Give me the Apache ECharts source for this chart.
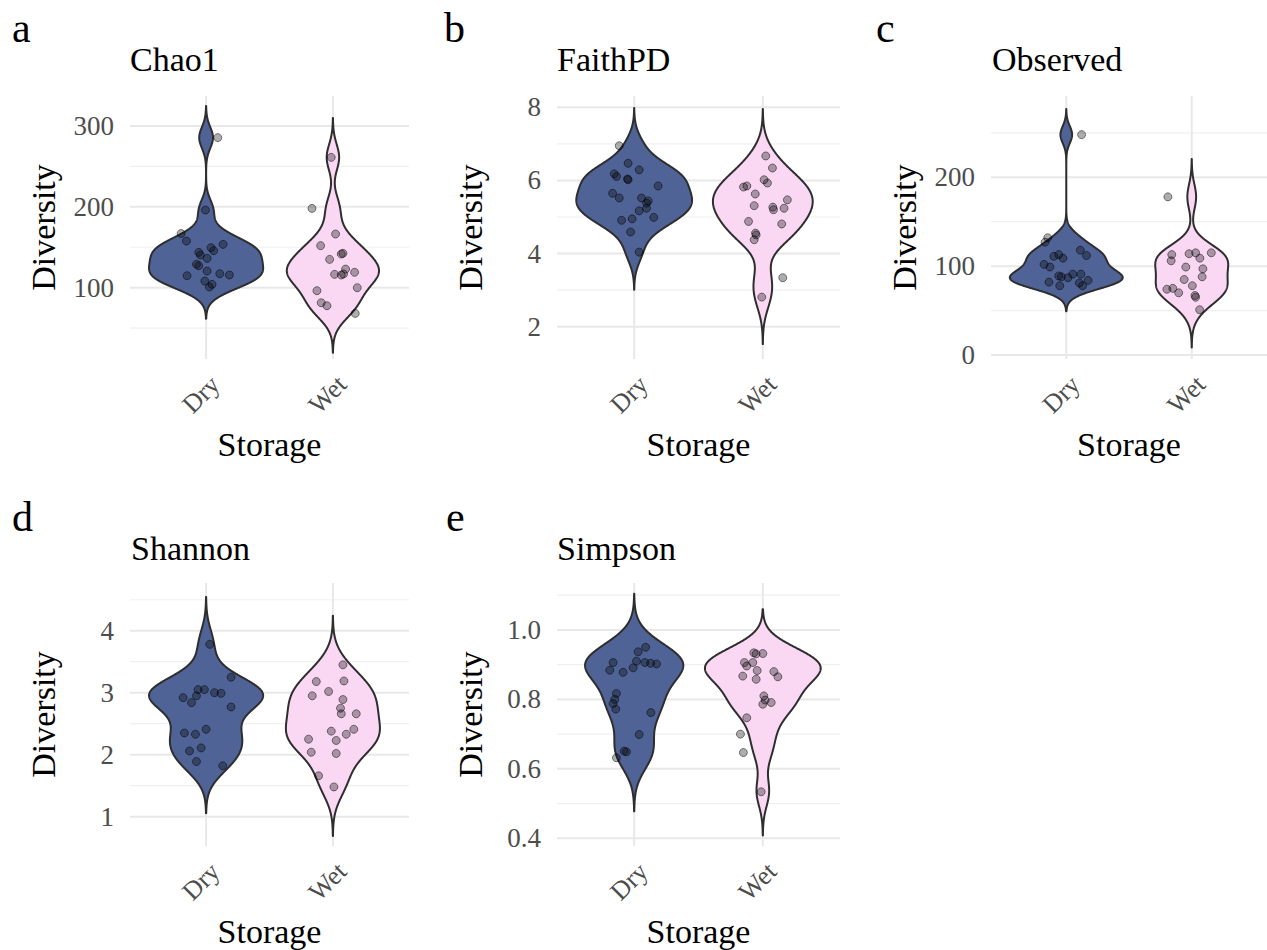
<!DOCTYPE html>
<html><head><meta charset="utf-8">
<script src="https://cdn.jsdelivr.net/npm/echarts@6/dist/echarts.min.js"></script>
<style>html,body{margin:0;padding:0;background:#fff}#c{width:1267px;height:950px}</style>
</head><body><div id="c"></div>
<script>
// ---------------- data ----------------
const groups = ['Dry', 'Wet'];
const panelLetters = ['a', 'b', 'c', 'd', 'e'];
const panelTitles = ['Chao1', 'FaithPD', 'Observed', 'Shannon', 'Simpson'];

const chao1Dry = [285.6,196,167,157.7,153.6,149.5,145.8,143.7,140.4,136.3,128.9,127.2,120.6,114.8,117.3,115.7,108.2,104.1,100.8];
const chao1DryJit = [0.092,-0.005,-0.197,-0.155,0.134,0.039,0.060,-0.058,-0.045,0.008,-0.076,-0.058,0.008,-0.150,0.108,0.184,-0.010,0.047,0.026];
const chao1Wet = [261.2,198.1,166.4,152,142.5,141.6,135,123,119,116.5,115.7,117,100,96.3,81.4,77.7,68.2];
const chao1WetJit = [-0.013,-0.165,0.021,-0.097,0.079,0.066,-0.026,0.100,0.171,0.013,0.066,0.084,0.192,-0.126,-0.092,-0.047,0.176];

const faithDry = [6.95,6.47,6.29,6.18,6.11,6.04,6.02,5.85,5.65,5.52,5.52,5.44,5.38,5.24,5.17,4.91,4.95,4.99,4.59,4.04];
const faithDryJit = [-0.116,-0.047,0.039,-0.155,-0.137,-0.052,-0.047,0.186,-0.168,-0.116,0.057,0.109,0.096,0.096,0.039,-0.098,-0.016,0.152,-0.028,0.039];
const faithWet = [6.67,6.34,6.02,5.93,5.85,5.82,5.63,5.47,5.31,5.27,5.20,5.24,4.88,4.81,4.56,4.51,4.38,3.34,2.81];
const faithWetJit = [0.023,0.075,0.010,0.036,-0.124,-0.150,-0.059,0.191,-0.067,0.078,0.083,0.165,-0.111,0.147,-0.057,-0.052,-0.067,0.155,-0.008];

const observedDry = [248,132,127,118,112,113,111,109,102,99,89,88,87,91,91,82,84,78,78,81];
const observedDryJit = [0.122,-0.148,-0.169,0.112,0.161,-0.060,-0.099,-0.026,-0.177,-0.130,-0.060,-0.039,0.013,0.052,0.117,-0.138,0.174,-0.052,0.130,0.104];
const observedWet = [178,113,106,114,115,115,109,99,97,88,85,78,74,75,70,67,65,51];
const observedWetJit = [-0.190,-0.159,-0.164,-0.021,0.031,0.156,0.065,-0.047,0.089,0.083,-0.060,0.005,-0.198,-0.151,-0.104,0.026,0.031,0.063];

const shannonDry = [3.78,3.25,3.05,3.05,3.00,2.99,2.95,2.92,2.84,2.77,2.35,2.41,2.33,2.11,2.06,1.89,1.82];
const shannonDryJit = [0.029,0.197,-0.063,-0.013,0.066,0.118,-0.076,-0.181,-0.115,0.197,-0.171,0,-0.084,-0.039,-0.131,-0.076,0.131];
const shannonWet = [3.45,3.18,3.19,3.02,2.95,2.89,2.75,2.66,2.66,2.41,2.38,2.33,2.25,2.23,2.04,2.02,1.66,1.48];
const shannonWetJit = [0.079,-0.131,0.087,-0.034,-0.163,0.079,0.060,0.066,0.184,0.165,-0.013,0.105,-0.192,0.026,-0.171,0.026,-0.113,0.008];

const simpsonDry = [0.950,0.937,0.910,0.906,0.906,0.904,0.902,0.891,0.884,0.878,0.817,0.800,0.788,0.772,0.762,0.699,0.651,0.649,0.632];
const simpsonDryJit = [0.089,0.031,0.018,-0.164,0.083,0.128,0.174,-0.008,-0.190,-0.086,-0.138,-0.151,-0.164,-0.143,0.130,0.039,-0.078,-0.060,-0.138];
const simpsonWet = [0.934,0.932,0.931,0.906,0.906,0.896,0.883,0.880,0.867,0.865,0.858,0.810,0.798,0.791,0.786,0.747,0.700,0.647,0.534];
const simpsonWetJit = [-0.070,0,-0.052,-0.143,-0.078,-0.125,-0.044,0.086,-0.156,0.117,-0.052,0.008,0.018,0.065,0,-0.125,-0.174,-0.151,-0.013];

// tick labels
const majorTicks = [[100,200,300],[2,4,6,8],[0,100,200],[1,2,3,4],[0.4,0.6,0.8,1.0]];
const minorTicks = [[50,150,250],[3,5,7],[50,150,250],[1.5,2.5,3.5,4.5],[0.5,0.7,0.9,1.1]];
const tickDecimals = [0,0,0,0,1];
// y axis limits
const yLimits = [[11.8,337.1],[1.117,8.31],[-4.5,291.5],[0.527,4.77],[0.378,1.135]];

const panelValues = [[chao1Dry,chao1Wet],[faithDry,faithWet],[observedDry,observedWet],[shannonDry,shannonWet],[simpsonDry,simpsonWet]];
const panelJitter = [[chao1DryJit,chao1WetJit],[faithDryJit,faithWetJit],[observedDryJit,observedWetJit],[shannonDryJit,shannonWetJit],[simpsonDryJit,simpsonWetJit]];

// ---------------- layout / style ----------------
const gridLeft = [130,557,991,130,557];
const gridWidth = [279,283,282,279,283];
const gridTop = [96,96,96,583,583];
const gridHeight = [263,263,263,263,263];
const letterPos = [[12,7],[444,7],[876,7],[12,496],[446,496]];
const titlePos = [[130,42],[557,42],[992,42],[131,531],[557,531]];
const FONT = 'Liberation Serif';
const fillColors = ['#4F6396', '#FAD8F4'];
const X_MIN = 0.4, X_MAX = 2.6;

// ---------------- KDE (ggplot-like violin) ----------------
function quantile7(s, p){ const h=(s.length-1)*p, lo=Math.floor(h), hi=Math.ceil(h); return s[lo]+(h-lo)*(s[hi]-s[lo]); }
function bwNrd0(x){
  const n=x.length, m=x.reduce((a,b)=>a+b,0)/n;
  const sd=Math.sqrt(x.reduce((a,b)=>a+(b-m)*(b-m),0)/(n-1));
  const s=[...x].sort((a,b)=>a-b);
  const iqr=quantile7(s,0.75)-quantile7(s,0.25);
  let lo=Math.min(sd, iqr/1.34); if(!(lo>0)) lo=sd||1;
  return 0.9*lo*Math.pow(n,-0.2);
}
function kde(x, n){
  const bw=bwNrd0(x);
  const lo=Math.min(...x)-3*bw, hi=Math.max(...x)+3*bw;
  const ys=[], ds=[];
  const c=1/(bw*Math.sqrt(2*Math.PI)*x.length);
  for(let i=0;i<n;i++){
    const y=lo+(hi-lo)*i/(n-1);
    let d=0; for(const xi of x){ const u=(y-xi)/bw; d+=Math.exp(-0.5*u*u); }
    ys.push(y); ds.push(d*c);
  }
  return {ys, ds};
}

// ---------------- build option ----------------
const grid=[], xAxis=[], yAxis=[], series=[], title=[];
for(let p=0;p<5;p++){
  grid.push({left:gridLeft[p], top:gridTop[p], width:gridWidth[p], height:gridHeight[p], containLabel:false});
  const dec = tickDecimals[p];
  xAxis.push({
    gridIndex:p, type:'value', min:X_MIN, max:X_MAX,
    axisLine:{show:false}, axisTick:{show:false}, splitLine:{show:false},
    axisLabel:{
      customValues:[1,2], rotate:45, margin:12, verticalAlign:'top', fontSize:26, color:'#4D4D4D', fontFamily:FONT,
      formatter:v=>{ const r=Math.round(v); return (Math.abs(v-r)<1e-6 && r>=1 && r<=2)? groups[r-1] : ''; }
    },
    name:'Storage', nameLocation:'middle', nameGap:68,
    nameTextStyle:{fontSize:34, color:'#000', fontFamily:FONT}
  });
  const majors = majorTicks[p];
  yAxis.push({
    gridIndex:p, type:'value', min:yLimits[p][0], max:yLimits[p][1],
    axisLine:{show:false}, axisTick:{show:false}, splitLine:{show:false},
    axisLabel:{
      customValues:majors, margin:16, fontSize:27, color:'#4D4D4D', fontFamily:FONT,
      formatter:v=>{ const hit=majors.find(m=>Math.abs(m-v)<1e-9); return hit===undefined? '' : hit.toFixed(dec); }
    },
    name:'Diversity', nameLocation:'middle', nameGap:70, nameRotate:90,
    nameTextStyle:{fontSize:34, color:'#000', fontFamily:FONT}
  });

  // gridlines
  const yl = yLimits[p];
  const gdata = majors.map(v=>[0,v]).concat(minorTicks[p].map(v=>[1,v])).concat([[2,1],[2,2]]);
  series.push({
    type:'custom', xAxisIndex:p, yAxisIndex:p, z:1, silent:true,
    data:gdata,
    renderItem:(params, api)=>{
      const kind=api.value(0), v=api.value(1);
      let a,b;
      if(kind===2){ a=api.coord([v, yl[0]]); b=api.coord([v, yl[1]]); }
      else { a=api.coord([X_MIN, v]); b=api.coord([X_MAX, v]); }
      return {type:'line', shape:{x1:a[0],y1:a[1],x2:b[0],y2:b[1]},
        style:{stroke: kind===1 ? '#F0F0F0' : '#E8E8E8', lineWidth: kind===1 ? 1.2 : 2}};
    }
  });

  // violins
  const dens = panelValues[p].map(v=>kde(v,512));
  const maxD = Math.max(...dens.map(d=>Math.max(...d.ds)));
  series.push({
    type:'custom', xAxisIndex:p, yAxisIndex:p, z:2, silent:true,
    data:[[1,0],[2,1]],
    renderItem:(params, api)=>{
      const gi=params.dataIndex, cx=gi+1, d=dens[gi];
      const right=[], left=[];
      for(let i=0;i<d.ys.length;i++){
        const hw=0.45*d.ds[i]/maxD;
        right.push(api.coord([cx+hw, d.ys[i]]));
        left.push(api.coord([cx-hw, d.ys[i]]));
      }
      const pts=right.concat(left.reverse());
      return {type:'polygon', shape:{points:pts},
        style:{fill:fillColors[gi], stroke:'#2E2E2E', lineWidth:2, lineJoin:'round'}};
    }
  });

  // jittered points
  const pts=[];
  for(let g=0;g<2;g++){
    const vals=panelValues[p][g], jit=panelJitter[p][g];
    for(let i=0;i<vals.length;i++) pts.push([g+1+jit[i], vals[i]]);
  }
  series.push({
    type:'scatter', xAxisIndex:p, yAxisIndex:p, z:3, silent:true,
    data:pts, symbol:'circle', symbolSize:8,
    itemStyle:{color:'rgba(0,0,0,0.4)', borderColor:'rgba(0,0,0,0.6)', borderWidth:1}
  });

  title.push({text:panelLetters[p], left:letterPos[p][0], top:letterPos[p][1], padding:0,
    textStyle:{fontSize:42, fontWeight:'normal', color:'#000', fontFamily:FONT}});
  title.push({text:panelTitles[p], left:titlePos[p][0], top:titlePos[p][1], padding:0,
    textStyle:{fontSize:34, fontWeight:'normal', color:'#000', fontFamily:FONT}});
}

const chart = echarts.init(document.getElementById('c'), null, {renderer:'svg'});
chart.setOption({backgroundColor:'#fff', animation:false, textStyle:{fontFamily:FONT}, title, grid, xAxis, yAxis, series});
</script>
</body></html>
